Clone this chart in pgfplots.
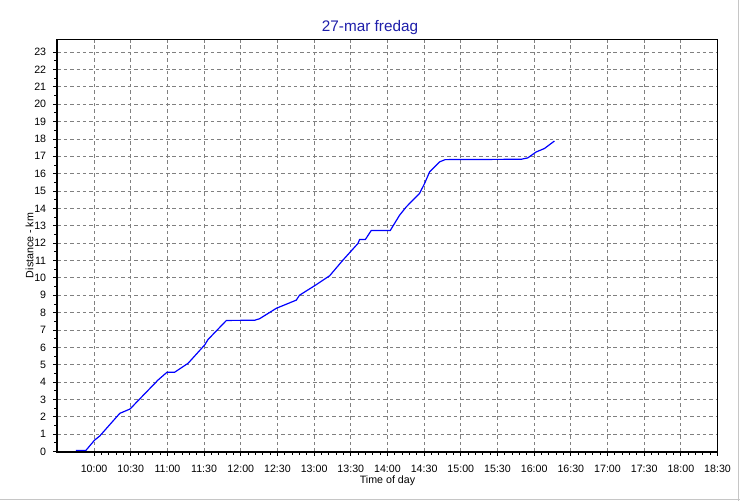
\documentclass[border=0pt]{standalone}
\usepackage{pgfplots}
\pgfplotsset{compat=1.18}
\usepackage{fontspec}
\setmainfont{Liberation Sans}
\definecolor{titleblue}{RGB}{30,30,170}
\definecolor{gridgray}{RGB}{128,128,128}
\newcommand\fs{\fontsize{8}{9.6}\selectfont}
\begin{document}
\begin{tikzpicture}
\begin{axis}[name=ax, at={(0,0)}, anchor=south west,
  scale only axis, width=495.75pt, height=309.5pt,
  xmin=9.5, xmax=18.5, ymin=0, ymax=23.73,
  xtick={10,10.5,11,11.5,12,12.5,13,13.5,14,14.5,15,15.5,16,16.5,17,17.5,18,18.5},
  xticklabels={10:00,10:30,11:00,11:30,12:00,12:30,13:00,13:30,14:00,14:30,15:00,15:30,16:00,16:30,17:00,17:30,18:00,18:30},
  ytick={0,1,...,23},
  minor x tick num=4, minor y tick num=1,
  tick align=outside,
  major tick length=3pt, minor tick length=2.25pt,
  tick style={black, line width=0.6pt},
  xtick pos=bottom, ytick pos=left,
  grid=major,
  major grid style={gridgray, line width=0.6pt, dash pattern=on 2.6pt off 2.2pt},
  axis line style={black, line width=0.75pt},
  /pgf/number format/assume math mode=true,
  ticklabel style={font=\fs},
  xticklabel style={anchor=base, inner sep=0pt, yshift=-13pt},
  yticklabel style={anchor=east, inner sep=0pt, xshift=-5.25pt},
]
\addplot[color={rgb,255:red,0;green,0;blue,255}, line width=0.9pt] coordinates {
(9.751,0.06) (9.887,0.06) (10.005,0.65) (10.078,0.9) (10.35,2.2) (10.418,2.32)
(10.49,2.45) (10.872,4.12) (10.995,4.57) (11.099,4.57) (11.281,5.08) (11.508,6.14)
(11.553,6.45) (11.804,7.55) (12.189,7.56) (12.257,7.65) (12.485,8.25) (12.757,8.72)
(12.8,9.0) (13.007,9.55) (13.211,10.12) (13.392,11.02) (13.597,11.98) (13.62,12.21)
(13.698,12.21) (13.779,12.73) (14.038,12.73) (14.165,13.61) (14.256,14.09) (14.437,14.86)
(14.505,15.43) (14.574,16.1) (14.71,16.68) (14.787,16.81) (15.823,16.83) (15.913,16.91)
(16.027,17.25) (16.14,17.45) (16.276,17.88)
};
\end{axis}
\draw[black, line width=1.5pt] (ax.north west) -- (ax.south west) -- (ax.south east);
\draw[black, line width=1.2pt] (ax.south east) -- (ax.north east);
\node[anchor=base, font=\fontsize{11.5}{13}\selectfont, text=titleblue] at ([shift={(-13.1pt,6pt)}]ax.north) {27-mar fredag};
\node[anchor=base, font=\fs] at ([yshift=-24.2pt]ax.south) {Time of day};
\node[anchor=base, rotate=90, font=\fs] at ([xshift=-18pt]ax.west) {Distance - km};
\pgfresetboundingbox
\path ([shift={(-42.75pt,-37pt)}]ax.south west) coordinate (bl) rectangle ([shift={(16.5pt,29.25pt)}]ax.north east) coordinate (tr);
\draw[gray!45, line width=0.75pt] ([yshift=1.1pt]bl) -- ([yshift=1.1pt]bl -| tr);
\draw[gray!45, line width=0.75pt] ([xshift=-1.1pt]tr) -- ([xshift=-1.1pt]tr |- bl);
\end{tikzpicture}
\end{document}
